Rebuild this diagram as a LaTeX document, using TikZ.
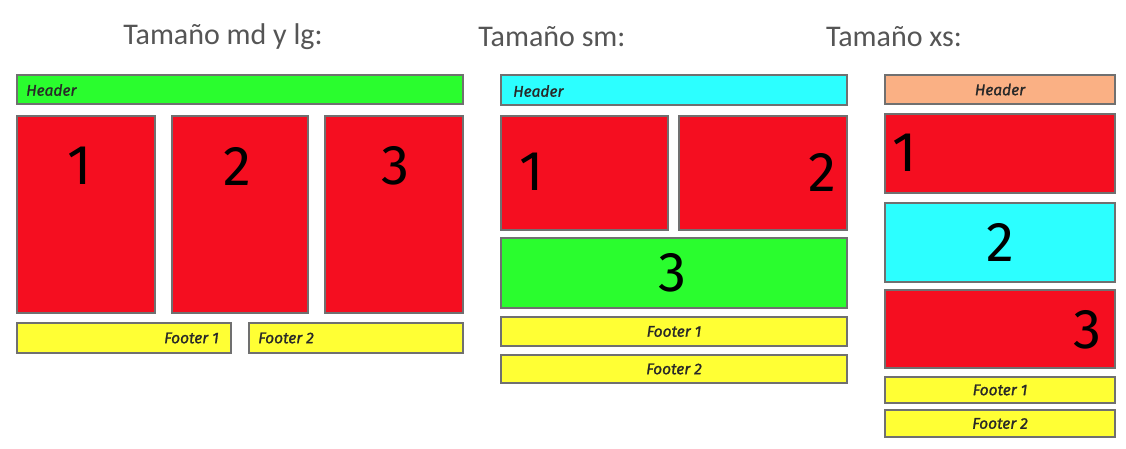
\documentclass[tikz,border=0pt]{standalone}
\usepackage{fontspec}
\setmainfont{Carlito}
\newfontfamily\boxfont{Fira Sans}
\newfontfamily\labfont{Fira Sans}[FakeBold=1.2]
\usetikzlibrary{fit}
\definecolor{cRed}{RGB}{245,14,32}
\definecolor{cGreen}{RGB}{42,253,46}
\definecolor{cCyan}{RGB}{44,255,255}
\definecolor{cYellow}{RGB}{255,255,52}
\definecolor{cSalmon}{RGB}{250,176,132}
\definecolor{cEdge}{RGB}{112,112,112}
\definecolor{cTitle}{RGB}{85,85,85}
\definecolor{cLabel}{RGB}{40,40,40}
\tikzset{
  box/.style={draw=cEdge, line width=1.8pt, inner sep=0pt, outer sep=0pt},
  title/.style={font=\fontsize{30}{33}\selectfont, text=cTitle, inner sep=0pt},
  small/.style={font=\labfont\itshape\fontsize{15.5}{17}\selectfont, text=cLabel, inner sep=0pt},
  big/.style={font=\boxfont\fontsize{56}{60}\selectfont, text=black, inner sep=0pt},
}
\newcommand{\bx}[6]{\node[box, fill=#6, fit={(#2,#3) (#4,#5)}] (#1) {};}
\begin{document}
\begin{tikzpicture}[x=1pt, y=-1pt]
\useasboundingbox (0,0) rectangle (1126,449);
\fill[white] (0,0) rectangle (1126,449);
% titles
\node[title] (t1) at (223,37) {Tamaño md y lg:};
\node[title] (t2) at (552,37) {Tamaño sm:};
\node[title] (t3) at (894,37) {Tamaño xs:};
% md lg
\bx{mh}{17}{75}{463}{104}{cGreen}
\bx{m1}{17}{116}{155}{313}{cRed}
\bx{m2}{172}{116}{308}{313}{cRed}
\bx{m3}{325}{116}{463}{313}{cRed}
\bx{mf1}{17}{323}{231}{353}{cYellow}
\bx{mf2}{249}{323}{463}{353}{cYellow}
\node[small, anchor=west] at (26,90) {Header};
\node[big] at (80,166) {1};
\node[big] at (237,166) {2};
\node[big] at (395,166) {3};
\node[small, anchor=east] at (219,338) {Footer 1};
\node[small, anchor=west] at (258,338) {Footer 2};
% sm
\bx{sh}{501}{75}{847}{105}{cCyan}
\bx{s1}{501}{116}{668}{230}{cRed}
\bx{s2}{679}{116}{847}{230}{cRed}
\bx{s3}{501}{238}{847}{308}{cGreen}
\bx{sf1}{501}{317}{847}{346}{cYellow}
\bx{sf2}{501}{355}{847}{383}{cYellow}
\node[small, anchor=west] at (513,91) {Header};
\node[big] at (532,172) {1};
\node[big] at (822,172) {2};
\node[big] at (672,273) {3};
\node[small] at (sf1) {Footer 1};
\node[small] at (sf2) {Footer 2};
% xs
\bx{xh}{885}{75}{1115}{104}{cSalmon}
\bx{x1}{885}{114}{1115}{193}{cRed}
\bx{x2}{885}{203}{1115}{282}{cCyan}
\bx{x3}{885}{290}{1115}{368}{cRed}
\bx{xf1}{885}{377}{1115}{403}{cYellow}
\bx{xf2}{885}{410}{1115}{437}{cYellow}
\node[small] at (xh) {Header};
\node[big] at (905,153) {1};
\node[big] at (1000,242) {2};
\node[big] at (1087,330) {3};
\node[small] at (xf1) {Footer 1};
\node[small] at (xf2) {Footer 2};
\end{tikzpicture}
\end{document}
